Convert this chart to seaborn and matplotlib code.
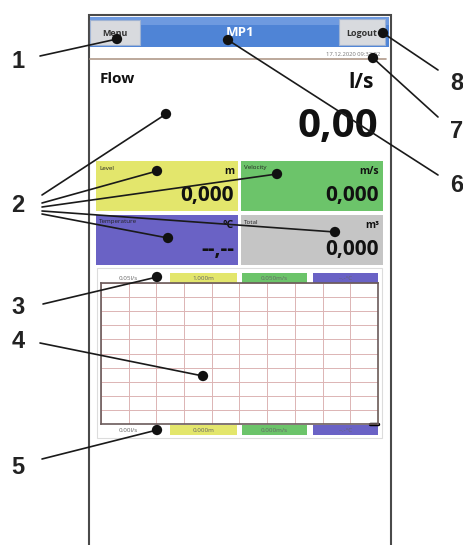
import matplotlib.pyplot as plt
import matplotlib.patches as mpatches
import seaborn as sns
import pandas as pd
import numpy as np

sns.set_style('white')
plt.rcParams['font.family'] = ['Open Sans', 'DejaVu Sans']

# header of the screen
header_title = 'MP1'
header_buttons = ['Menu', 'Logout']
timestamp = '17.12.2020 09:32:02'

# main reading
main_name = 'Flow'
main_unit = 'l/s'
main_value = '0,00'

# measurement tiles
tile_names = ['Level', 'Velocity', 'Temperature', 'Total']
tile_units = ['m', 'm/s', '°C', 'm³']
tile_values = ['0,000', '0,000', '--,--', '0,000']
tile_colors = ['#e3e66c', '#6cc46a', '#6a62c5', '#c5c5c5']

# scale labels above / below the trend chart
scale_top = ['0.05l/s', '1.000m', '0.050m/s', '--.-°C']
scale_bottom = ['0.00l/s', '0.000m', '0.000m/s', '--.-°C']
scale_colors = ['white', '#e3e66c', '#6cc46a', '#6a62c5']

# level trace, only the newest sample at the right edge
trace_t = [10, 10]
trace_level = [0, 5.4]

# callout numbers and the points they mark (screen pixels)
callout_num = ['1', '2', '2', '2', '2', '2', '3', '4', '5', '6', '7', '8']
dot_x = [117, 166, 157, 277, 335, 168, 157, 203, 157, 228, 373, 383]
dot_y = [39, 114, 171, 174, 232, 238, 277, 376, 430, 40, 58, 33]
start_x = [40, 42, 42, 42, 42, 42, 43, 40, 42, 438, 438, 438]
start_y = [56, 195, 203, 207, 211, 214, 304, 343, 459, 175, 117, 70]
label_num = ['1', '2', '3', '4', '5', '6', '7', '8']
label_x = [18, 18, 18, 18, 18, 457, 457, 457]
label_y = [62, 206, 307, 342, 467, 185, 132, 83]

W, H = 464, 545
fig = plt.figure(figsize=(W / 100, H / 100), dpi=100)
ax = fig.add_axes([0, 0, 1, 1])
ax.set_xlim(0, W)
ax.set_ylim(H, 0)
ax.axis('off')

# device frame
ax.add_patch(mpatches.Rectangle((89, 15), 302, 540, fc='white', ec='#4a4a4a', lw=1.5))

# header bar
ax.add_patch(mpatches.Rectangle((90, 17), 299, 30, fc='#4f84d6', ec='none'))
ax.add_patch(mpatches.Rectangle((90, 17), 299, 8, fc='#6e9ae0', ec='none'))
ax.add_patch(mpatches.Rectangle((90, 20), 50, 25, fc='#d8dade', ec='#9fb3d3', lw=0.8))
ax.add_patch(mpatches.Rectangle((339, 19), 46, 26, fc='#d8dade', ec='#9fb3d3', lw=0.8))
ax.text(115, 33, header_buttons[0], ha='center', va='center', fontsize=6.5,
        fontweight='bold', color='#333333')
ax.text(362, 33, header_buttons[1], ha='center', va='center', fontsize=6.5,
        fontweight='bold', color='#333333')
ax.text(240, 32, header_title, ha='center', va='center', fontsize=9.5,
        fontweight='bold', color='white')

# timestamp and separator
ax.text(380, 54, timestamp, ha='right', va='center', fontsize=4.2, color='#777777')
ax.plot([90, 386], [59, 59], color='#b09a8a', lw=1.2)

# main reading
ax.text(100, 79, main_name, ha='left', va='center', fontsize=11, fontweight='bold',
        color='#111111')
ax.text(374, 82, main_unit, ha='right', va='center', fontsize=15, fontweight='bold',
        color='#111111')
ax.text(378, 127, main_value, ha='right', va='center', fontsize=29, fontweight='bold',
        color='#111111')

# tiles 2x2
tile_x = [96, 241, 96, 241]
tile_y = [161, 161, 215, 215]
for i in range(4):
    x0, y0 = tile_x[i], tile_y[i]
    ax.add_patch(mpatches.Rectangle((x0, y0), 142, 50, fc=tile_colors[i], ec='none'))
    ax.text(x0 + 3, y0 + 7, tile_names[i], ha='left', va='center', fontsize=4.5,
            color='#222222')
    ax.text(x0 + 138, y0 + 11, tile_units[i], ha='right', va='center', fontsize=7.5,
            fontweight='bold', color='#111111')
    ax.text(x0 + 138, y0 + 34, tile_values[i], ha='right', va='center', fontsize=15,
            fontweight='bold', color='#111111')

# trend chart frame and scale labels
ax.add_patch(mpatches.Rectangle((97, 268), 285, 170, fc='white', ec='#dcdcdc', lw=0.8))
lab_x = [100, 170, 242, 313]
lab_w = [57, 67, 65, 65]
for i in range(4):
    for yy, txt in [(273, scale_top[i]), (425, scale_bottom[i])]:
        ax.add_patch(mpatches.Rectangle((lab_x[i], yy), lab_w[i], 10,
                                        fc=scale_colors[i], ec='none'))
        ax.text(lab_x[i] + lab_w[i] / 2, yy + 5, txt, ha='center', va='center',
                fontsize=4.5, color='#666666')

# trend chart grid
cx = fig.add_axes([101 / W, 1 - 424 / H, 277 / W, 141 / H])
cx.set_xlim(0, 10)
cx.set_ylim(0, 10)
cx.set_xticks(np.arange(0, 11))
cx.set_yticks(np.arange(0, 11))
cx.grid(True, color='#dcb4b4', lw=0.7)
cx.tick_params(length=0, labelbottom=False, labelleft=False)
for s in cx.spines.values():
    s.set_color('#6b5b5b')
    s.set_linewidth(1.2)
sns.lineplot(x=trace_t, y=trace_level, ax=cx, color='#e8e83a', lw=1.5)
cx.plot([9.7, 10], [0, 0], color='black', lw=2.5, clip_on=False)

# callouts on top
ov = fig.add_axes([0, 0, 1, 1])
ov.set_xlim(0, W)
ov.set_ylim(H, 0)
ov.axis('off')
ov.patch.set_alpha(0)
calls = pd.DataFrame({'num': callout_num, 'x': dot_x, 'y': dot_y,
                      'sx': start_x, 'sy': start_y})
for _, r in calls.iterrows():
    ov.plot([r['sx'], r['x']], [r['sy'], r['y']], color='#1a1a1a', lw=1.2)
sns.scatterplot(data=calls, x='x', y='y', ax=ov, color='#111111', s=55,
                edgecolor='none', legend=False, zorder=5)
ov.set_xlim(0, W)
ov.set_ylim(H, 0)
ov.axis('off')
for n, x, y in zip(label_num, label_x, label_y):
    ov.text(x, y, n, ha='center', va='center', fontsize=17, fontweight='bold',
            color='#222222', family=['Liberation Sans', 'DejaVu Sans'])

fig.savefig('out.png', dpi=100)
